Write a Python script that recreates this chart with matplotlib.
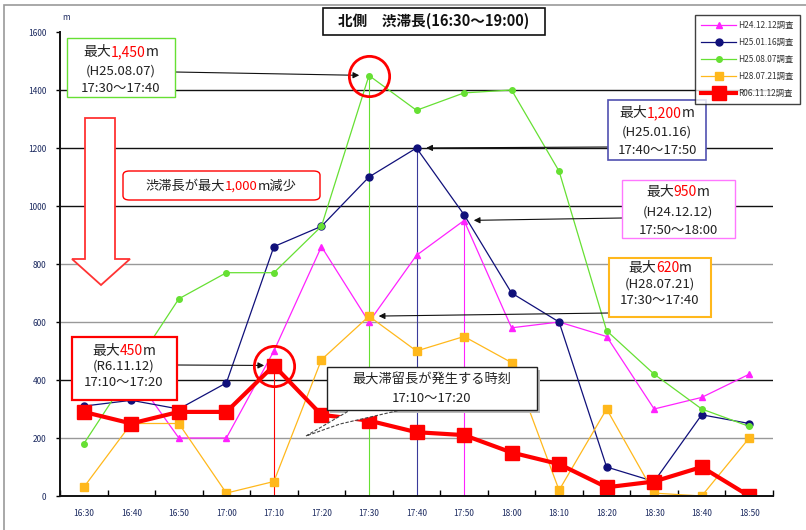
import numpy as np
import matplotlib
matplotlib.use('Agg')
import matplotlib.pyplot as plt
import matplotlib.patches as patches
from matplotlib.offsetbox import TextArea, HPacker, AnnotationBbox

plt.rcParams['font.family'] = ['Noto Sans CJK JP', 'DejaVu Sans']

TIMES = ['16:30', '16:40', '16:50', '17:00', '17:10', '17:20', '17:30', '17:40',
         '17:50', '18:00', '18:10', '18:20', '18:30', '18:40', '18:50']
H24_1212 = [380, 430, 200, 200, 500, 860, 600, 830, 950, 580, 600, 550, 300, 340, 420]
H25_0116 = [310, 330, 300, 390, 860, 930, 1100, 1200, 970, 700, 600, 100, 50, 280, 250]
H25_0807 = [180, 430, 680, 770, 770, 930, 1450, 1330, 1390, 1400, 1120, 570, 420, 300, 240]
H28_0721 = [30, 250, 250, 10, 50, 470, 620, 500, 550, 460, 20, 300, 10, 0, 200]
R06_1112 = [290, 250, 290, 290, 450, 280, 260, 220, 210, 150, 110, 30, 50, 100, 0]
LABELS = ['H24.12.12調査', 'H25.01.16調査', 'H25.08.07調査', 'H28.07.21調査', 'R06.11.12調査']

GRID_BLACK = [400, 1000, 1200, 1400]
GRID_GRAY = [200, 600, 800]

MAGENTA = '#ff22ff'
NAVY = '#10107a'
GREEN = '#66e033'
ORANGE = '#ffb81c'
RED = '#ff0000'
TICKC = '#1c2a60'

W, H = 806, 530
fig = plt.figure(figsize=(W / 100, H / 100), dpi=100)


def P(px, py):
    # pixel (from top-left) -> figure fraction
    return (px / W, 1 - py / H)


ax = fig.add_axes([60 / W, 1 - 496 / H, (773 - 60) / W, (496 - 32) / H])
x = np.arange(len(TIMES))

for g in GRID_BLACK:
    ax.axhline(g, color='#111111', lw=1.0, zorder=1)
for g in GRID_GRAY:
    ax.axhline(g, color='#999999', lw=1.0, zorder=1)

# max-value vertical lines
peaks = [(R06_1112, RED), (H25_0807, GREEN), (H25_0116, '#3a3a9a'), (H24_1212, MAGENTA)]
for series, col in peaks:
    i = int(np.argmax(series))
    ax.vlines(i, 0, series[i], color=col, lw=0.8, zorder=2)

l1, = ax.plot(x, H24_1212, color=MAGENTA, lw=0.9, marker='^', ms=5, zorder=3)
l2, = ax.plot(x, H25_0116, color=NAVY, lw=0.9, marker='o', ms=5, zorder=3)
l3, = ax.plot(x, H25_0807, color=GREEN, lw=0.9, marker='o', ms=4, zorder=3)
l4, = ax.plot(x, H28_0721, color=ORANGE, lw=0.9, marker='s', ms=5.5, zorder=3)
l5, = ax.plot(x, R06_1112, color=RED, lw=3, marker='s', ms=9.5, zorder=4)

# red circles on the two peaks
ax.plot(6, max(H25_0807), 'o', ms=29, mfc='none', mec=RED, mew=2, zorder=6)
ax.plot(4, max(R06_1112), 'o', ms=29, mfc='none', mec=RED, mew=2, zorder=6)

ax.set_xlim(-0.5, len(TIMES) - 0.5)
ax.set_ylim(0, 1600)
ax.set_xticks(x)
ax.set_xticklabels(TIMES)
ax.set_xticks(np.arange(-0.5, len(TIMES), 1), minor=True)
ax.set_yticks(np.arange(0, 1601, 200))
ax.tick_params(axis='x', which='major', length=0, labelsize=6, labelcolor=TICKC, pad=9)
ax.tick_params(axis='x', which='minor', direction='in', length=4, width=1)
ax.tick_params(axis='y', direction='out', length=3, width=1, labelsize=6, labelcolor=TICKC, pad=7)
for s in ['top', 'right']:
    ax.spines[s].set_visible(False)
for s in ['left', 'bottom']:
    ax.spines[s].set_linewidth(1.4)
    ax.spines[s].set_color('#111111')
ax.spines['left'].set_zorder(7)
ax.spines['bottom'].set_zorder(7)

fig.text(*P(66, 18), 'm', fontsize=6, color=TICKC, ha='center', va='center')

# outer frame (only top and left edges visible)
fig.add_artist(patches.Rectangle(P(4, 545), (W + 10) / W, 540 / H, transform=fig.transFigure,
                                 fill=False, ec='#999999', lw=1.2))


def box(x0, y0, x1, y1, ec, lw=1.0, fc='white', zorder=8, shadow=False, rounded=False):
    if shadow:
        fig.add_artist(patches.Rectangle(P(x0 + 3, y1 + 3), (x1 - x0) / W, (y1 - y0) / H,
                                         transform=fig.transFigure, fc='#bbbbbb', ec='none',
                                         zorder=zorder - 0.5))
    if rounded:
        p = patches.FancyBboxPatch(P(x0, y1), (x1 - x0) / W, (y1 - y0) / H,
                                   boxstyle='round,pad=0,rounding_size=0.008',
                                   transform=fig.transFigure, fc=fc, ec=ec, lw=lw, zorder=zorder)
    else:
        p = patches.Rectangle(P(x0, y1), (x1 - x0) / W, (y1 - y0) / H,
                              transform=fig.transFigure, fc=fc, ec=ec, lw=lw, zorder=zorder)
    fig.add_artist(p)


def rich(px, py, parts, size=10, weight='normal'):
    areas = [TextArea(t, textprops=dict(color=c, fontsize=size, fontweight=weight)) for t, c in parts]
    pack = HPacker(children=areas, align='baseline', pad=0, sep=0)
    ab = AnnotationBbox(pack, P(px, py), xycoords='figure fraction', frameon=False,
                        box_alignment=(0.5, 0.5), zorder=10)
    fig.add_artist(ab)


def line(px, py, s, size=9.5, color='#222222', weight='normal'):
    fig.text(*P(px, py), s, fontsize=size, color=color, ha='center', va='center',
             fontweight=weight, zorder=10)


def arrow(px, py, xi, yv):
    ax.annotate('', xy=(xi, yv), xycoords='data', xytext=P(px, py), textcoords='figure fraction',
                arrowprops=dict(arrowstyle='-|>', color='#111111', lw=0.8, shrinkA=0, shrinkB=7,
                                mutation_scale=9), zorder=5)


# arrows to peaks
arrow(175, 72, 6, max(H25_0807))
arrow(608, 147, 7, max(H25_0116))
arrow(622, 218, 8, max(H24_1212))
arrow(609, 313, 6, max(H28_0721))
arrow(177, 365, 4, max(R06_1112))

# title
box(323, 8, 545, 35, '#111111', lw=1.2)
line(434, 21, '北側　渋滞長(16:30～19:00)', size=10.5, color='#111111', weight='bold')

# peak boxes
box(67, 38, 175, 97, GREEN)
rich(121, 52, [('最大', '#222222'), ('1,450', RED), ('m', '#222222')])
line(121, 71, '(H25.08.07)')
line(121, 89, '17:30～17:40')

box(608, 100, 706, 160, '#5050b0', lw=1.2)
rich(657, 113, [('最大', '#222222'), ('1,200', RED), ('m', '#222222')])
line(657, 132, '(H25.01.16)')
line(657, 151, '17:40～17:50')

box(622, 180, 735, 238, '#ff77ff')
rich(678, 192, [('最大', '#222222'), ('950', RED), ('m', '#222222')])
line(678, 212, '(H24.12.12)')
line(678, 230, '17:50～18:00')

box(609, 258, 711, 317, ORANGE, lw=1.5)
rich(660, 268, [('最大', '#222222'), ('620', RED), ('m', '#222222')])
line(660, 284, '(H28.07.21)')
line(660, 301, '17:30～17:40')

box(72, 337, 177, 400, RED, lw=1.6)
rich(124, 351, [('最大', '#222222'), ('450', RED), ('m', '#222222')])
line(124, 366, '(R6.11.12)')
line(124, 382, '17:10～17:20')

# reduction note
box(123, 171, 320, 200, RED, lw=1.0, rounded=True)
rich(221, 186, [('渋滞長が最大', '#222222'), ('1,000', RED), ('m減少', '#222222')], size=9.5)

# hollow down arrow
pts = [(85, 118), (115, 118), (115, 259), (130, 259), (101, 285), (72, 259), (85, 259)]
fig.add_artist(patches.Polygon([P(a, b) for a, b in pts], closed=True, transform=fig.transFigure,
                               fc='white', ec='#ff3333', lw=1.3, zorder=8))

# callout
callout = [(352, 409), (306, 436), (340, 424), (405, 409)]
fig.add_artist(patches.Polygon([P(a, b) for a, b in callout], closed=True, transform=fig.transFigure,
                               fc='white', ec='#444444', lw=0.8, ls=(0, (3, 1.5)), zorder=8))
box(327, 367, 537, 410, '#222222', lw=1.0, shadow=True)
line(432, 379, '最大滞留長が発生する時刻', size=9.5)
line(432, 398, '17:10～17:20', size=9.5)

# legend
leg = fig.legend([l1, l2, l3, l4, l5], LABELS, loc='upper right', bbox_to_anchor=P(804, 11),
                 fontsize=6, frameon=True, fancybox=False, edgecolor='#111111',
                 handlelength=4.2, borderpad=0.7, labelspacing=0.95, handletextpad=0.3)
leg.get_frame().set_linewidth(1.0)
leg.set_zorder(12)
for t in leg.get_texts():
    t.set_color('#333333')

fig.savefig('out.png', dpi=100)
